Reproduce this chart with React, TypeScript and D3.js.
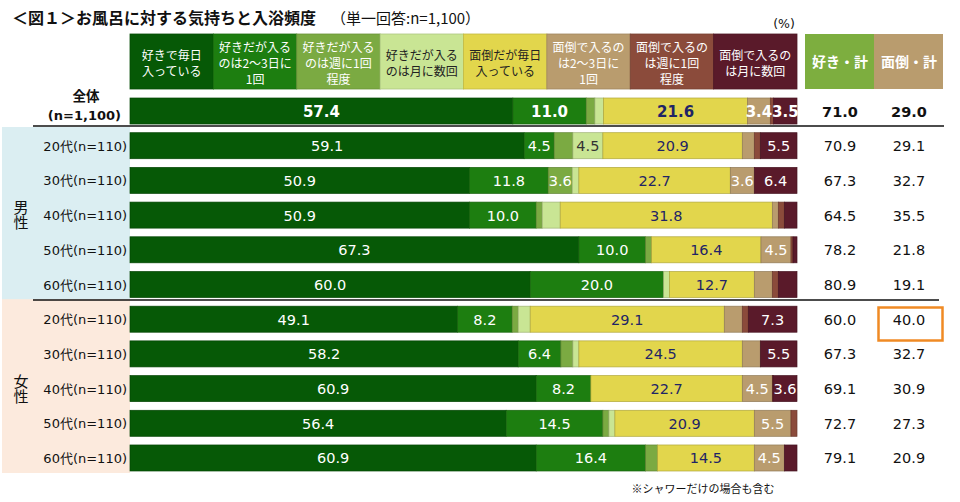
import React from "react";
import * as d3 from "d3";

const rowLabels = ["全体", "20代(n=110)", "30代(n=110)", "40代(n=110)", "50代(n=110)", "60代(n=110)", "20代(n=110)", "30代(n=110)", "40代(n=110)", "50代(n=110)", "60代(n=110)"];
const seriesNames = [
  ["好きで毎日", "入っている"],
  ["好きだが入る", "のは2～3日に", "1回"],
  ["好きだが入る", "のは週に1回", "程度"],
  ["好きだが入る", "のは月に数回"],
  ["面倒だが毎日", "入っている"],
  ["面倒で入るの", "は2～3日に", "1回"],
  ["面倒で入るの", "は週に1回", "程度"],
  ["面倒で入るの", "は月に数回"],
];
const likeDaily = [57.4, 59.1, 50.9, 50.9, 67.3, 60.0, 49.1, 58.2, 60.9, 56.4, 60.9];
const like2to3 = [11.0, 4.5, 11.8, 10.0, 10.0, 20.0, 8.2, 6.4, 8.2, 14.5, 16.4];
const likeWeekly = [1.3, 2.8, 3.6, 0.9, 0.9, 0.0, 0.9, 1.8, 0.0, 0.9, 1.8];
const likeMonthly = [1.3, 4.5, 1.0, 2.7, 0.0, 0.9, 1.8, 0.9, 0.0, 0.9, 0.0];
const botherDaily = [21.6, 20.9, 22.7, 31.8, 16.4, 12.7, 29.1, 24.5, 22.7, 20.9, 14.5];
const bother2to3 = [3.4, 1.8, 3.6, 0.9, 4.5, 2.7, 2.7, 2.7, 4.5, 5.5, 4.5];
const botherWeekly = [0.5, 0.9, 0.0, 0.9, 0.3, 0.9, 0.9, 0.0, 0.1, 0.9, 0.0];
const botherMonthly = [3.5, 5.5, 6.4, 1.9, 0.6, 2.8, 7.3, 5.5, 3.6, 0.0, 1.9];
const likeTotal = ["71.0", "70.9", "67.3", "64.5", "78.2", "80.9", "60.0", "67.3", "69.1", "72.7", "79.1"];
const botherTotal = ["29.0", "29.1", "32.7", "35.5", "21.8", "19.1", "40.0", "32.7", "30.9", "27.3", "20.9"];
const groups = [
  { name: "男性", from: 1, to: 5, bg: "#DBEEF2" },
  { name: "女性", from: 6, to: 10, bg: "#FCEADD" },
];

const series = [likeDaily, like2to3, likeWeekly, likeMonthly, botherDaily, bother2to3, botherWeekly, botherMonthly];
const colors = ["#065906", "#1D7E10", "#7BAA42", "#C9E594", "#E2D64C", "#B99C6E", "#8B4B3B", "#5A1A2A"];
const headTextColors = ["#fff", "#fff", "#fff", "#222", "#222", "#fff", "#fff", "#fff"];
const labelColors = ["#fff", "#fff", "#fff", "#333", "#1F2466", "#fff", "#fff", "#fff"];

const NUM = "'DejaVu Sans', 'Noto Sans CJK JP', sans-serif";
const JP = "'Noto Sans CJK JP', sans-serif";

export default function App() {
  const x = d3.scaleLinear().domain([0, 100]).range([130, 797]);
  const y = d3.scaleBand<number>().domain(d3.range(rowLabels.length)).range([98, 471]).paddingInner(0.25).paddingOuter(0);
  const bw = y.bandwidth();
  const stack = rowLabels.map((_, r) => {
    let acc = 0;
    return series.map((s, k) => {
      const v = s[r];
      const seg = { k, x0: acc, x1: acc + v, v };
      acc += v;
      return seg;
    });
  });
  const hTop = 34, hBot = 89;
  const colL = 840, colR = 909;

  return (
    <svg width={960} height={502} style={{ position: "absolute", left: 0, top: 0, background: "#fff" }}>
      {/* title */}
      <text x={12} y={24} fontFamily={JP} fontWeight="bold" fontSize={16} fill="#111">＜図１＞お風呂に対する気持ちと入浴頻度</text>
      <text x={331} y={24} fontFamily={JP} fontSize={15} fill="#111">（単一回答:n=1,100）</text>
      <text x={784} y={28} fontFamily={NUM} fontSize={12.5} textAnchor="middle" fill="#111">(%)</text>

      {/* group backgrounds */}
      {groups.map((g, i) => {
        const top = i === 0 ? 127 : (y(g.from)! - 7);
        const bot = i === 0 ? y(g.to)! + bw + 3 : y(g.to)! + bw + 2;
        const mid = (y(g.from)! + y(g.to)! + bw) / 2;
        return (
          <g key={i}>
            <rect x={2} y={top} width={128} height={bot - top} fill={g.bg} />
            <text x={21} y={mid} fontFamily={JP} fontSize={15} textAnchor="middle" fill="#111" style={{ writingMode: "vertical-rl" }}>{g.name}</text>
          </g>
        );
      })}

      {/* header boxes */}
      {seriesNames.map((lines, k) => {
        const x0 = x(k * 12.5), x1 = x((k + 1) * 12.5);
        const cy = (hTop + hBot) / 2 + 1;
        const lh = 16;
        return (
          <g key={k}>
            <rect x={x0} y={hTop} width={x1 - x0} height={hBot - hTop} fill={colors[k]} stroke={d3.color(colors[k])!.darker(0.4).toString()} strokeWidth={0.8} />
            {lines.map((t, j) => (
              <text key={j} x={(x0 + x1) / 2} y={cy + (j - (lines.length - 1) / 2) * lh + 5} fontFamily={JP} fontSize={12} textAnchor="middle" fill={headTextColors[k]}>{t}</text>
            ))}
          </g>
        );
      })}
      <rect x={805} y={hTop} width={69} height={hBot - hTop} fill="#7DAE3F" />
      <rect x={874} y={hTop} width={69} height={hBot - hTop} fill="#B99C6E" />
      <text x={colL} y={67} fontFamily={JP} fontWeight="bold" fontSize={14} textAnchor="middle" fill="#fff">好き・計</text>
      <text x={colR} y={67} fontFamily={JP} fontWeight="bold" fontSize={14} textAnchor="middle" fill="#fff">面倒・計</text>

      {/* row labels */}
      <text x={86} y={101} fontFamily={JP} fontWeight="bold" fontSize={13.5} textAnchor="middle" fill="#111">全体</text>
      <text x={121} y={120} fontFamily={NUM} fontWeight="bold" fontSize={13} textAnchor="end" fill="#111">(n=1,100)</text>
      {rowLabels.slice(1).map((l, i) => (
        <text key={i} x={127} y={y(i + 1)! + bw / 2 + 5} fontFamily={NUM} fontSize={13} textAnchor="end" fill="#111">{l}</text>
      ))}

      {/* bars */}
      {stack.map((segs, r) => (
        <g key={r}>
          {segs.filter(s => s.v > 0).map(s => (
            <rect key={s.k} x={x(s.x0)} y={y(r)} width={x(s.x1) - x(s.x0)} height={bw} fill={colors[s.k]} stroke={d3.color(colors[s.k])!.darker(0.7).toString()} strokeWidth={0.7} />
          ))}
          {segs.filter(s => s.v >= 3).map(s => (
            <text key={"t" + s.k} x={(x(s.x0) + x(s.x1)) / 2} y={y(r)! + bw / 2 + 5.5} fontFamily={NUM} fontSize={r === 0 ? 15 : 14.5} fontWeight={r === 0 ? "bold" : "normal"} textAnchor="middle" fill={labelColors[s.k]}>{s.v.toFixed(1)}</text>
          ))}
          <text x={colL} y={y(r)! + bw / 2 + 5.5} fontFamily={NUM} fontSize={14.5} fontWeight={r === 0 ? "bold" : "normal"} textAnchor="middle" fill="#111">{likeTotal[r]}</text>
          <text x={colR} y={y(r)! + bw / 2 + 5.5} fontFamily={NUM} fontSize={14.5} fontWeight={r === 0 ? "bold" : "normal"} textAnchor="middle" fill="#111">{botherTotal[r]}</text>
        </g>
      ))}

      {/* separators */}
      <line x1={33} x2={944} y1={126} y2={126} stroke="#111" strokeWidth={1.5} />
      <line x1={33} x2={939} y1={300} y2={300} stroke="#111" strokeWidth={1.5} />

      {/* highlight */}
      <rect x={878.5} y={307.5} width={64} height={33} fill="none" stroke="#F08A24" strokeWidth={2.5} />

      <text x={703} y={493} fontFamily={JP} fontSize={11} textAnchor="middle" fill="#111">※シャワーだけの場合も含む</text>
    </svg>
  );
}
